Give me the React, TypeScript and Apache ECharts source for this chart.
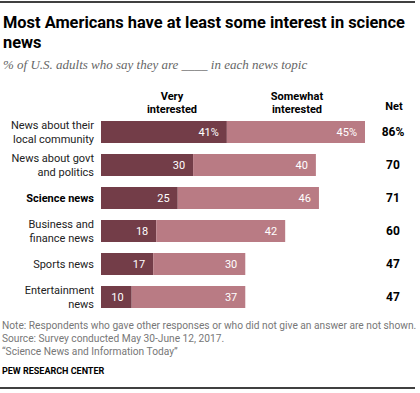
import React, { useEffect, useRef } from "react";
import * as echarts from "echarts";

const categories = [
  "News about their\nlocal community",
  "News about govt\nand politics",
  "Science news",
  "Business and\nfinance news",
  "Sports news",
  "Entertainment\nnews",
];
const veryInterested = [41, 30, 25, 18, 17, 10];
const somewhatInterested = [45, 40, 46, 42, 30, 37];
const netValues = ["86%", "70", "71", "60", "47", "47"];

const DARK = "#733d48";
const LIGHT = "#b97b84";
const FONT = "Roboto, 'Liberation Sans', Arial, sans-serif";

export default function App() {
  const ref = useRef<HTMLDivElement>(null);
  useEffect(() => {
    if (!ref.current) return;
    const chart = echarts.init(ref.current, null, { renderer: "svg" });
    chart.setOption({
      animation: false,
      grid: { left: 101, width: 264, top: 115.5, height: 198 },
      xAxis: {
        type: "value",
        min: 0,
        max: 86,
        show: false,
      },
      yAxis: [
        {
          type: "category",
          data: categories,
          inverse: true,
          axisLine: { show: false },
          axisTick: { show: false },
          splitLine: { show: false },
          axisLabel: {
            margin: 7,
            fontFamily: FONT,
            fontSize: 11,
            color: "#222",
            lineHeight: 14,
            formatter: (v: string) =>
              v === "Science news" ? `{b|${v}}` : `{n|${v}}`,
            rich: {
              b: { fontWeight: "bold", fontFamily: FONT, fontSize: 11, color: "#000" },
              n: { fontFamily: FONT, fontSize: 11, color: "#222", lineHeight: 14 },
            },
          },
        },
        {
          type: "category",
          data: netValues,
          inverse: true,
          position: "right",
          axisLine: { show: false },
          axisTick: { show: false },
          splitLine: { show: false },
          axisLabel: {
            margin: 28,
            align: "center",
            fontFamily: FONT,
            fontSize: 12,
            fontWeight: "bold",
            color: "#000",
          },
        },
      ],
      series: [
        {
          type: "bar",
          stack: "t",
          data: veryInterested,
          barWidth: 22,
          itemStyle: { color: DARK },
          label: {
            show: true,
            position: "insideRight",
            distance: 8,
            color: "#fff",
            fontFamily: FONT,
            fontSize: 11,
            formatter: (p: any) => (p.dataIndex === 0 ? `${p.value}%` : `${p.value}`),
          },
        },
        {
          type: "bar",
          stack: "t",
          data: somewhatInterested,
          barWidth: 22,
          itemStyle: { color: LIGHT },
          label: {
            show: true,
            position: "insideRight",
            distance: 8,
            color: "#fff",
            fontFamily: FONT,
            fontSize: 11,
            formatter: (p: any) => (p.dataIndex === 0 ? `${p.value}%` : `${p.value}`),
          },
        },
      ],
      graphic: [
        { type: "line", shape: { x1: 0, y1: 2, x2: 415, y2: 2 }, style: { stroke: "#000", lineWidth: 1.5 } },
        { type: "line", shape: { x1: 0, y1: 388, x2: 415, y2: 388 }, style: { stroke: "#000", lineWidth: 1.5 } },
        {
          type: "text", x: 3, y: 12,
          style: {
            text: "Most Americans have at least some interest in science\nnews",
            font: `bold 16.4px ${FONT}`, fill: "#000", lineHeight: 20,
          },
        },
        {
          type: "text", x: 3, y: 58,
          style: {
            text: "% of U.S. adults who say they are ____ in each news topic",
            font: `italic 13px 'Liberation Serif', 'DejaVu Serif', serif`, fill: "#666",
          },
        },
        {
          type: "text", x: 172, y: 90,
          style: {
            text: "Very\ninterested", align: "center",
            font: `bold 11px ${FONT}`, fill: "#000", lineHeight: 13,
          },
        },
        {
          type: "text", x: 297, y: 90,
          style: {
            text: "Somewhat\ninterested", align: "center",
            font: `bold 11px ${FONT}`, fill: "#000", lineHeight: 13,
          },
        },
        {
          type: "text", x: 394, y: 101,
          style: { text: "Net", align: "center", font: `bold 11px ${FONT}`, fill: "#000" },
        },
        {
          type: "text", x: 2, y: 319,
          style: {
            text:
              "Note: Respondents who gave other responses or who did not give an answer are not shown.\nSource: Survey conducted May 30-June 12, 2017.\n\u201cScience News and Information Today\u201d",
            font: `10.2px ${FONT}`, fill: "#777", lineHeight: 13,
          },
        },
        {
          type: "text", x: 2, y: 366,
          style: { text: "PEW RESEARCH CENTER", font: `bold 9px ${FONT}`, fill: "#000" },
        },
      ],
    });
    return () => chart.dispose();
  }, []);
  return (
    <div
      ref={ref}
      style={{ position: "fixed", left: 0, top: 0, width: 420, height: 393, background: "#fff" }}
    />
  );
}
